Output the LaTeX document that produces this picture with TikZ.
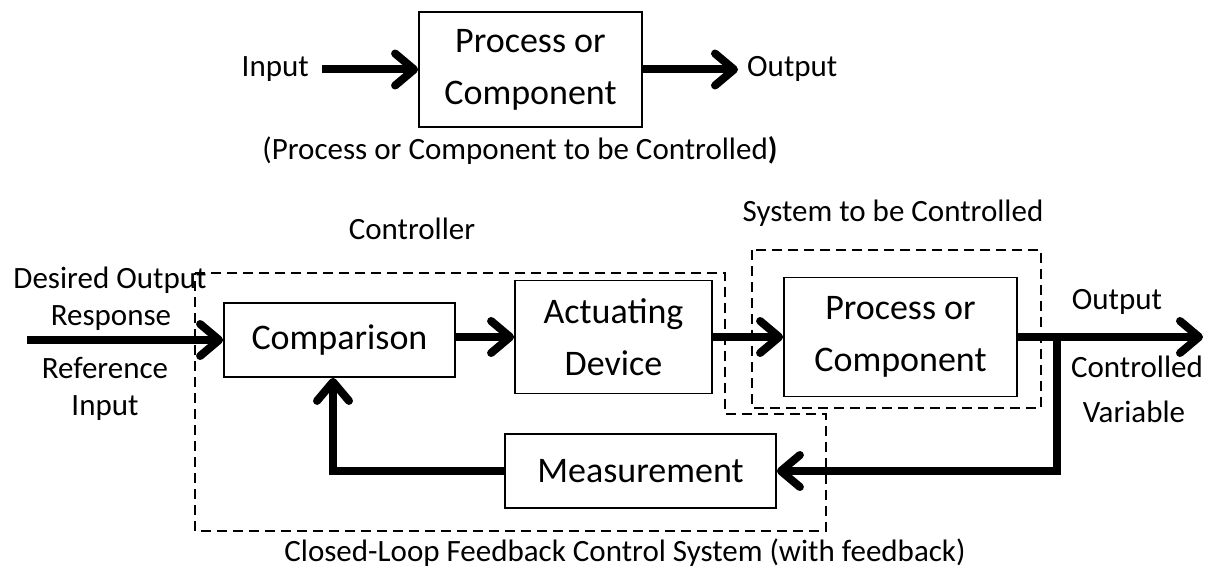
\documentclass[tikz,border=0pt]{standalone}
\usepackage{fontspec}
\setmainfont{Carlito}
\usetikzlibrary{arrows.meta}
\begin{document}
\begin{tikzpicture}[x=1pt,y=-1pt,
  blk/.style={draw,line width=1.8pt,inner sep=0pt,align=center,font=\fontsize{36}{52}\selectfont},
  lbl/.style={inner sep=0pt,align=center,font=\fontsize{31}{40}\selectfont},
  flow/.style={line width=8pt,-{Straight Barb[length=19pt,width=32pt,line cap=round,line join=round]}},
  dbox/.style={line width=2pt,dash pattern=on 10pt off 6pt}]
\useasboundingbox (0,0) rectangle (1215,572);
% top diagram
\node[blk,minimum width=223pt,minimum height=115pt] (pc) at (530.5,69.5) {Process or\\Component};
\node[lbl,anchor=east] (in) at (309,69) {Input};
\coordinate (inS) at (322,69.5);
\draw[flow] (inS) -- (pc.west);
\coordinate (outE) at (738,69.5);
\draw[flow] (pc.east) -- (outE);
\node[lbl,anchor=west] (out) at (747,69) {Output};
\node[lbl] (cap1) at (520,150) {(Process or Component to be Controlled{\bfseries )}};
% bottom diagram
\node[blk,minimum width=231pt,minimum height=74pt] (cmp) at (339.5,340) {Comparison};
\node[blk,minimum width=197pt,minimum height=113pt] (act) at (613.5,337) {Actuating\\Device};
\node[blk,minimum width=233pt,minimum height=119pt] (proc) at (900.5,337) {Process or\\Component};
\node[blk,minimum width=271pt,minimum height=74pt] (meas) at (640.5,471) {Measurement};
\draw[dbox] (195,273) -- (725,273) -- (725,414) -- (826,414) -- (826,531) -- (195,531) -- cycle;
\draw[dbox] (752,250) rectangle (1041,408);
\coordinate (ref) at (27,340);
\draw[flow] (ref) -- (cmp.west);
\draw[flow] (cmp.east |- act.west) -- (act.west);
\draw[flow] (act.east) -- (proc.west);
\coordinate (yout) at (1203,337);
\draw[flow] (proc.east) -- (yout);
\coordinate (j) at (1057,337);
\draw[flow] (j) -- (j |- meas.east) -- (meas.east);
\coordinate (fb) at (333,471);
\draw[flow] (meas.west) -- (fb) -- (fb |- cmp.south);
% labels
\node[lbl] (l1) at (110,280) {Desired Output};
\node[lbl] (l2) at (111,318) {Response};
\node[lbl] (l3) at (105,368) {Reference};
\node[lbl] (l4) at (105,408) {Input};
\node[lbl] (l5) at (412,229) {Controller};
\node[lbl] (l6) at (893,213) {System to be Controlled};
\node[lbl] (l7) at (1117,302) {Output};
\node[lbl] (l8) at (1137,367) {Controlled};
\node[lbl] (l9) at (1134,412) {Variable};
\node[lbl] (cap2) at (625,553) {Closed-Loop Feedback Control System (with feedback)};
\end{tikzpicture}
\end{document}
